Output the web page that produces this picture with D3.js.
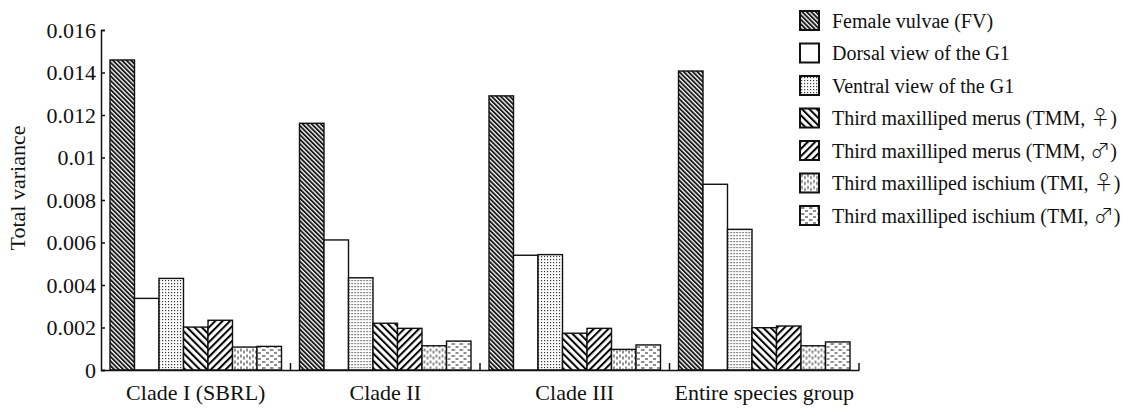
<!DOCTYPE html>
<html>
<head>
<meta charset="utf-8">
<script src="https://cdn.jsdelivr.net/npm/d3@7"></script>
<style>
  html, body { margin: 0; padding: 0; background: #fff; }
  svg { display: block; }
  text { font-family: "Liberation Serif", "Times New Roman", serif; fill: #111; }
  tspan.sym { font-family: "Noto Sans CJK SC", "DejaVu Sans", sans-serif; font-weight: 300; }
</style>
</head>
<body>
<svg id="chart" width="1123" height="411"></svg>
<script>
// Groups along the x axis
const categories = ["Clade I (SBRL)", "Clade II", "Clade III", "Entire species group"];

// Character sets (one bar per set within each group)
const seriesNames = [
  "Female vulvae (FV)",
  "Dorsal view of the G1",
  "Ventral view of the G1",
  "Third maxilliped merus (TMM, \u2640)",
  "Third maxilliped merus (TMM, \u2642)",
  "Third maxilliped ischium (TMI, \u2640)",
  "Third maxilliped ischium (TMI, \u2642)"
];

// Total variance per group, one array per character set
const femaleVulvae   = [0.01459, 0.01161, 0.01290, 0.01407];
const dorsalG1       = [0.00337, 0.00612, 0.00540, 0.00874];
const ventralG1      = [0.00431, 0.00434, 0.00543, 0.00662];
const merusFemale    = [0.00202, 0.00220, 0.00173, 0.00199];
const merusMale      = [0.00234, 0.00196, 0.00196, 0.00207];
const ischiumFemale  = [0.00108, 0.00114, 0.00097, 0.00114];
const ischiumMale    = [0.00111, 0.00136, 0.00118, 0.00132];

const yTicks = [0, 0.002, 0.004, 0.006, 0.008, 0.01, 0.012, 0.014, 0.016];

const seriesValues = [femaleVulvae, dorsalG1, ventralG1, merusFemale, merusMale, ischiumFemale, ischiumMale];
const patternIds = ["p-fv", "p-dorsal", "p-ventral", "p-merus-f", "p-merus-m", "p-isch-f", "p-isch-m"];

const svg = d3.select("#chart");
const defs = svg.append("defs");

// --- fill patterns ---
function stripes(id, size, width, angle, color) {
  const p = defs.append("pattern").attr("id", id)
    .attr("patternUnits", "userSpaceOnUse")
    .attr("width", size).attr("height", size)
    .attr("patternTransform", `rotate(${angle})`);
  p.append("rect").attr("width", size).attr("height", size).attr("fill", "#fff");
  p.append("rect").attr("x", 0).attr("y", 0).attr("width", width).attr("height", size).attr("fill", color);
}
stripes("p-fv", 3.2, 1.9, -45, "#1a1a1a");
stripes("p-merus-f", 5.2, 2.0, -45, "#000");
stripes("p-merus-m", 5.2, 2.0, 45, "#000");

defs.append("pattern").attr("id", "p-dorsal")
  .attr("patternUnits", "userSpaceOnUse").attr("width", 4).attr("height", 4)
  .append("rect").attr("width", 4).attr("height", 4).attr("fill", "#fff");

(function () {
  const p = defs.append("pattern").attr("id", "p-ventral")
    .attr("patternUnits", "userSpaceOnUse").attr("width", 3).attr("height", 3);
  p.append("rect").attr("width", 3).attr("height", 3).attr("fill", "#fff");
  p.append("rect").attr("x", 1).attr("y", 1).attr("width", 1.2).attr("height", 1.2).attr("fill", "#3a3a3a");
})();

(function () {
  const p = defs.append("pattern").attr("id", "p-isch-f")
    .attr("patternUnits", "userSpaceOnUse").attr("width", 6).attr("height", 6);
  p.append("rect").attr("width", 6).attr("height", 6).attr("fill", "#fff");
  p.append("line").attr("x1", 2).attr("x2", 2).attr("y1", 0.5).attr("y2", 3.5)
    .attr("stroke", "#333").attr("stroke-width", 1.1);
  p.append("line").attr("x1", 5).attr("x2", 5).attr("y1", 2.5).attr("y2", 5.5)
    .attr("stroke", "#333").attr("stroke-width", 1.1);
})();

(function () {
  const p = defs.append("pattern").attr("id", "p-isch-m")
    .attr("patternUnits", "userSpaceOnUse").attr("width", 8).attr("height", 6);
  p.append("rect").attr("width", 8).attr("height", 6).attr("fill", "#fff");
  p.append("line").attr("x1", 1).attr("x2", 4.5).attr("y1", 2).attr("y2", 2)
    .attr("stroke", "#333").attr("stroke-width", 1.1);
  p.append("line").attr("x1", 5).attr("x2", 8.5).attr("y1", 5).attr("y2", 5)
    .attr("stroke", "#333").attr("stroke-width", 1.1);
})();

// --- scales ---
const plotLeft = 101, plotRight = 859, plotTop = 30, plotBottom = 370;

const x0 = d3.scaleBand().domain(categories).range([plotLeft, plotRight]).padding(0);
const x1 = d3.scaleBand().domain(d3.range(seriesNames.length))
  .range([9, x0.bandwidth() - 9]).padding(0);
const y = d3.scaleLinear().domain([0, 0.016]).range([plotBottom, plotTop]);

// --- bars ---
const groups = svg.append("g").selectAll("g")
  .data(categories)
  .join("g")
  .attr("transform", d => `translate(${x0(d)},0)`);

groups.selectAll("rect")
  .data((c, ci) => seriesValues.map((vals, si) => ({ si, v: vals[ci] })))
  .join("rect")
  .attr("x", d => x1(d.si))
  .attr("width", x1.bandwidth())
  .attr("y", d => y(d.v))
  .attr("height", d => y(0) - y(d.v))
  .attr("fill", d => `url(#${patternIds[d.si]})`)
  .attr("stroke", "#111")
  .attr("stroke-width", 1.4);

// --- y axis ---
const fmt = d => d === 0 ? "0" : String(+d.toFixed(3));
const yAxis = svg.append("g")
  .attr("transform", `translate(${plotLeft},0)`)
  .call(d3.axisLeft(y).tickValues(yTicks).tickFormat(fmt).tickSize(-4).tickPadding(5));
yAxis.select(".domain").attr("stroke", "#111").attr("stroke-width", 1.5);
yAxis.selectAll(".tick line").attr("stroke", "#111").attr("stroke-width", 1.5);
yAxis.selectAll(".tick text")
  .attr("font-size", 22).attr("fill", "#111");

// --- x axis ---
const xAxis = svg.append("g")
  .attr("transform", `translate(0,${plotBottom})`)
  .call(d3.axisBottom(x0).tickSize(0).tickPadding(14).tickSizeOuter(0));
xAxis.select(".domain").attr("stroke", "#111").attr("stroke-width", 1.5);
xAxis.selectAll(".tick text")
  .attr("font-size", 22).attr("fill", "#111");

// separators between groups, pointing up from the axis
svg.append("g").selectAll("line")
  .data(categories)
  .join("line")
  .attr("x1", d => x0(d) + x0.bandwidth())
  .attr("x2", d => x0(d) + x0.bandwidth())
  .attr("y1", plotBottom)
  .attr("y2", plotBottom - 7)
  .attr("stroke", "#111").attr("stroke-width", 1.5);

// y axis title
svg.append("text")
  .attr("transform", `translate(25,${(plotTop + plotBottom) / 2 - 12}) rotate(-90)`)
  .attr("text-anchor", "middle")
  .attr("font-size", 22)
  .text("Total variance");

// --- legend ---
const legend = svg.append("g").attr("transform", "translate(800,11)");
const items = legend.selectAll("g")
  .data(seriesNames)
  .join("g")
  .attr("transform", (d, i) => `translate(0,${i * 32.5})`);
items.append("rect")
  .attr("width", 19).attr("height", 19)
  .attr("fill", (d, i) => `url(#${patternIds[i]})`)
  .attr("stroke", "#111").attr("stroke-width", 2);

// legend labels: the sex symbols are set in a CJK face for their full-width shape
const labels = items.append("text")
  .attr("x", 32).attr("y", 16.5)
  .attr("font-size", 20);
labels.each(function (d) {
  const t = d3.select(this);
  const m = d.match(/^(.*?)([\u2640\u2642])(\))$/);
  if (m) {
    t.append("tspan").text(m[1]);
    t.append("tspan").attr("class", "sym").text(m[2]);
    t.append("tspan").text(m[3]);
  } else {
    t.text(d);
  }
});
</script>
</body>
</html>
